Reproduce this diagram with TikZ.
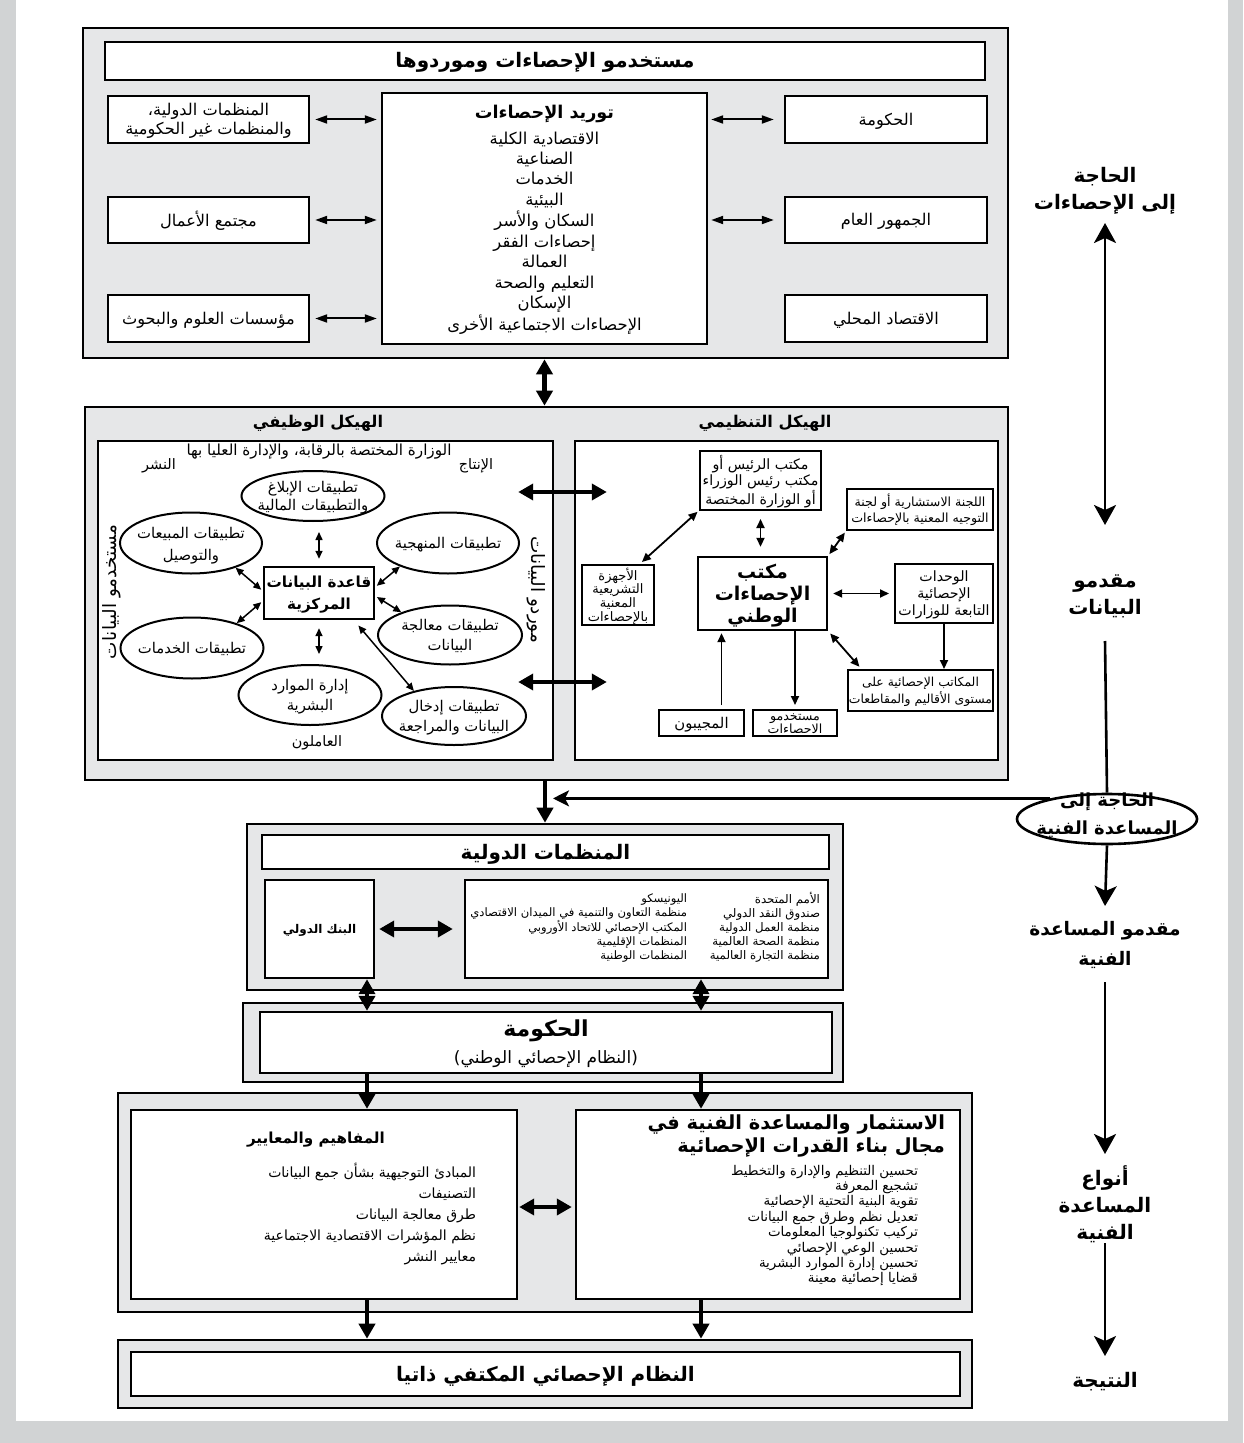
\documentclass[tikz,border=0pt]{standalone}
\usepackage{fontspec}
\usetikzlibrary{arrows.meta,shapes.geometric,fit,calc}
\newfontfamily\arabicfont[Script=Arabic]{DejaVu Sans}
\TeXXeTstate=1
\definecolor{panelgray}{RGB}{230,231,232}
\definecolor{framegray}{RGB}{209,211,212}
\newcommand{\AR}[1]{\beginR #1\endR}
\newcommand{\zbox}[1]{\makebox[0pt]{\smash{\raisebox{-0.36em}{\begin{tabular}{@{}c@{}}#1\end{tabular}}}}}
\newcommand{\zboxu}[1]{\makebox[0pt]{\smash{\begin{tabular}{@{}c@{}}#1\end{tabular}}}}
\newcommand{\rlist}[1]{\begin{tabular}{@{}r@{}}#1\end{tabular}}
\newcommand{\F}[2]{\arabicfont\fontsize{#1}{#2}\selectfont}
\begin{document}
\begin{tikzpicture}[x=0.5pt,y=-0.5pt,
  panel/.style={draw=black, line width=1.3pt, fill=panelgray, inner sep=0pt},
  wbox/.style={draw=black, line width=1.2pt, fill=white, inner sep=0pt},
  sbox/.style={draw=black, line width=1pt, fill=white, inner sep=0pt},
  oval/.style={ellipse, draw=black, line width=1pt, fill=white, inner sep=0pt},
  txt/.style={inner sep=0pt, outer sep=0pt},
  dbl/.style={{Triangle[length=6pt,width=4pt]}-{Triangle[length=6pt,width=4pt]}, line width=1pt},
  sdbl/.style={{Triangle[length=4pt,width=3.5pt]}-{Triangle[length=4pt,width=3.5pt]}, line width=0.75pt},
  rdb/.style={{Triangle[length=4.5pt,width=4pt]}-{Triangle[length=4.5pt,width=4pt]}, line width=0.9pt},
  rsg/.style={-{Triangle[length=4.5pt,width=4pt]}, line width=0.9pt},
  thk/.style={{Triangle[length=7.5pt,width=8pt]}-{Triangle[length=7.5pt,width=8pt]}, line width=2.4pt},
  thks/.style={-{Triangle[length=7.5pt,width=8pt]}, line width=2.4pt},
  rarr/.style={-{Stealth[length=10pt,width=11pt,inset=2.5pt]}, line width=1.3pt},
  rdbl/.style={{Stealth[length=10pt,width=11pt,inset=2.5pt]}-{Stealth[length=10pt,width=11pt,inset=2.5pt]}, line width=1.3pt},
  rline/.style={line width=1.3pt},
  harr/.style={-{Stealth[length=8pt,width=8pt,inset=2pt]}, line width=1.2pt}
]
% frame
\fill[framegray] (0,0) rectangle (1243,1443);
\fill[white] (16,0) rectangle (1228,1421);
\useasboundingbox (0,0) rectangle (1243,1443);

% ===== top panel =====
\node[panel, fit={(83,28) (1008,358)}] (top) {};
\node[wbox, fit={(105,42) (985,80)}, font={\F{10}{12}\bfseries}] (ttl) {\zbox{\AR{مستخدمو الإحصاءات وموردوها}}};
\node[wbox, fit={(108,96) (309,143)}, font={\F{8.1}{9.5}}] (ngo) {\zbox{\AR{المنظمات الدولية،}\\\AR{والمنظمات غير الحكومية}}};
\node[wbox, fit={(108,197) (309,243)}, font={\F{8.1}{9.5}}] (biz) {\zbox{\AR{مجتمع الأعمال}}};
\node[wbox, fit={(108,295) (309,342)}, font={\F{8.1}{9.5}}] (sci) {\zbox{\AR{مؤسسات العلوم والبحوث}}};
\node[wbox, fit={(785,96) (987,143)}, font={\F{8.1}{9.5}}] (govt) {\zbox{\AR{الحكومة}}};
\node[wbox, fit={(785,197) (987,243)}, font={\F{8.1}{9.5}}] (pub) {\zbox{\AR{الجمهور العام}}};
\node[wbox, fit={(785,295) (987,342)}, font={\F{8.1}{9.5}}] (loc) {\zbox{\AR{الاقتصاد المحلي}}};
\node[wbox, fit={(382,93) (707,344)}, font={\F{8.2}{10.2}}] (supply) {\zbox{{\bfseries\fontsize{8.8}{10}\selectfont\AR{توريد الإحصاءات}}\\[2.5pt]
 \AR{الاقتصادية الكلية}\\ \AR{الصناعية}\\ \AR{الخدمات}\\ \AR{البيئية}\\ \AR{السكان والأسر}\\
 \AR{إحصاءات الفقر}\\ \AR{العمالة}\\ \AR{التعليم والصحة}\\ \AR{الإسكان}\\ \AR{الإحصاءات الاجتماعية الأخرى}}};
\draw[dbl, shorten <=2.5pt, shorten >=2pt] (ngo.east) -- (supply.west |- ngo.east);
\draw[dbl, shorten <=2.5pt, shorten >=2pt] (biz.east) -- (supply.west |- biz.east);
\draw[dbl, shorten <=2.5pt, shorten >=2pt] (sci.east) -- (supply.west |- sci.east);
\draw[dbl, shorten <=1.5pt, shorten >=5pt] (supply.east |- govt.west) -- (govt.west);
\draw[dbl, shorten <=1.5pt, shorten >=5pt] (supply.east |- pub.west) -- (pub.west);

% ===== middle panel =====
\node[panel, fit={(85,407) (1008,780)}] (mid) {};
\draw[thk] (supply.south |- top.south) -- (supply.south |- mid.north);
\node[txt, font={\F{8.1}{10}\bfseries}] (fstr) at (318,423) {\AR{الهيكل الوظيفي}};
\node[txt, font={\F{8.1}{10}\bfseries}] (ostr) at (765,423) {\AR{الهيكل التنظيمي}};
\node[wbox, fit={(98,441) (553,760)}] (LB) {};
\node[wbox, fit={(575,441) (998,760)}] (RB) {};
\coordinate (hA) at (0,492);
\coordinate (hB) at (0,682);

% left (functional) box
\node[txt, font={\F{7.6}{8}}] (minis) at (319,452) {\AR{الوزارة المختصة بالرقابة، والإدارة العليا بها}};
\node[txt, font={\F{7.2}{8}}] (publ) at (159,466) {\AR{النشر}};
\node[txt, font={\F{7.2}{8}}] (prod) at (476,466) {\AR{الإنتاج}};
\node[oval, minimum width=71.5pt, minimum height=25pt, font={\F{7.4}{9}}] (elT) at (313,496) {\zbox{\AR{تطبيقات الإبلاغ}\\\AR{والتطبيقات المالية}}};
\node[oval, minimum width=71pt, minimum height=30.5pt, font={\F{7.4}{11}}] (elUL) at (191,543) {\zbox{\AR{تطبيقات المبيعات}\\\AR{والتوصيل}}};
\node[oval, minimum width=71pt, minimum height=30.5pt, font={\F{7.4}{10}}] (elUR) at (448,543) {\zbox{\AR{تطبيقات المنهجية}}};
\node[wbox, fit={(264,567) (374,619)}, font={\F{7.6}{11}\bfseries}] (db) {\zbox{\AR{قاعدة البيانات}\\\AR{المركزية}}};
\node[oval, minimum width=71.5pt, minimum height=30.5pt, font={\F{7.4}{10}}] (elLL) at (192,648) {\zbox{\AR{تطبيقات الخدمات}}};
\node[oval, minimum width=72pt, minimum height=29.5pt, font={\F{7.4}{10}}] (elLR) at (450,635) {\zbox{\AR{تطبيقات معالجة}\\\AR{البيانات}}};
\node[oval, minimum width=71.5pt, minimum height=30pt, font={\F{7.4}{10}}] (elB) at (310,695) {\zbox{\AR{إدارة الموارد}\\\AR{البشرية}}};
\node[oval, minimum width=72pt, minimum height=29pt, font={\F{7.4}{10}}] (elBR) at (454,716) {\zbox{\AR{تطبيقات إدخال}\\\AR{البيانات والمراجعة}}};
\node[txt, font={\F{7.2}{8}}] (work) at (317,743) {\AR{العاملون}};
\node[txt, rotate=90, font={\F{9.2}{10}}] (dusers) at (117,592) {\zboxu{\AR{مستخدمو البيانات}}};
\node[txt, rotate=-90, font={\F{9.2}{10}}] (dsupp) at (531,590) {\zboxu{\AR{موردو البيانات}}};
\draw[sdbl, shorten <=5pt, shorten >=3.5pt] (elT.south -| db.north) -- (db.north);
\draw[sdbl, shorten <=4pt, shorten >=5pt] (db.south) -- (db.south |- elB.north);
\draw[sdbl, shorten <=1pt] (db.178) -- (elUL.-29);
\draw[sdbl, shorten <=1pt] (db.188) -- (elLL.29);
\draw[sdbl, shorten <=1pt] (db.6) -- (elUR.206);
\draw[sdbl, shorten <=1pt] (db.-3) -- (elLR.155);
\draw[sdbl, shorten <=3.5pt] (db.-38) -- (elBR.148);

% right (organisational) box
\node[sbox, fit={(700,451) (821,510)}, font={\F{7.1}{8}}] (pm) {\zbox{\AR{مكتب الرئيس أو}\\\AR{مكتب رئيس الوزراء}\\\AR{أو الوزارة المختصة}}};
\node[wbox, fit={(698,557) (827,630)}, font={\F{9.5}{11}\bfseries}] (nso) {\zbox{\AR{مكتب}\\\AR{الإحصاءات}\\\AR{الوطني}}};
\node[sbox, fit={(582,565) (654,625)}, font={\F{6.5}{6.7}}] (leg) {\zbox{\AR{الأجهزة}\\\AR{التشريعية}\\\AR{المعنية}\\\AR{بالإحصاءات}}};
\node[sbox, fit={(847,489) (993,530)}, font={\F{6.3}{8}}] (comm) {\zbox{\AR{اللجنة الاستشارية أو لجنة}\\\AR{التوجيه المعنية بالإحصاءات}}};
\node[sbox, fit={(895,564) (993,623)}, font={\F{7.1}{8.5}}] (units) {\zbox{\AR{الوحدات}\\\AR{الإحصائية}\\\AR{التابعة للوزارات}}};
\node[sbox, fit={(848,670) (993,711)}, font={\F{6.2}{8.5}}] (reg) {\zbox{\AR{المكاتب الإحصائية على}\\\AR{مستوى الأقاليم والمقاطعات}}};
\node[sbox, fit={(659,710) (744,736)}, font={\F{7.4}{8}}] (resp) {\zbox{\AR{المجيبون}}};
\node[sbox, fit={(753,710) (837,736)}, font={\F{6.3}{6}}] (susers) {\zbox{\AR{مستخدمو}\\\AR{الاحصاءات}}};
\draw[rdb, shorten <=1.5pt, shorten >=1pt] (leg.55) -- (pm.206);
\draw[rdb, shorten <=4pt, shorten >=4.5pt] (pm.south) -- (pm.south |- nso.north);
\draw[rdb, shorten <=1pt, shorten >=1pt] (nso.north east) -- (comm.south west);
\draw[rdb, shorten <=2.5pt, shorten >=2.5pt] (nso.east) -- (units.west);
\draw[rsg] (units.south) -- (units.south |- reg.north);
\draw[rdb, shorten <=1.5pt, shorten >=1.5pt] (nso.south east) -- (reg.160);
\coordinate (rp) at ($(resp.north)+(20,0)$);
\draw[rsg, shorten <=2pt, shorten >=1pt] (rp) -- (rp |- nso.south);
\draw[rsg, shorten >=2pt] (nso.south -| susers.north) -- (susers.north);

\draw[thk, shorten <=-18pt, shorten >=-16.5pt] (LB.east |- hA) -- (RB.west |- hA);
\draw[thk, shorten <=-18pt, shorten >=-16.5pt] (LB.east |- hB) -- (RB.west |- hB);

% ===== international organisations =====
\node[panel, fit={(247,824) (843,990)}] (intl) {};
\draw[thks] (mid.south -| intl.north) -- (intl.north);
\node[wbox, fit={(262,835) (829,869)}, font={\F{10}{12}\bfseries}] (intlt) {\zbox{\AR{المنظمات الدولية}}};
\node[wbox, fit={(265,880) (374,978)}, font={\F{6}{8}\bfseries}] (wb) {\zbox{\AR{البنك الدولي}}};
\node[wbox, fit={(465,880) (828,978)}] (orgs) {};
\node[txt, anchor=east, font={\F{5.9}{7}}] (orgsR) at (820,928) {\rlist{\AR{الأمم المتحدة}\\ \AR{صندوق النقد الدولي}\\ \AR{منظمة العمل الدولية}\\ \AR{منظمة الصحة العالمية}\\ \AR{منظمة التجارة العالمية}}};
\node[txt, anchor=east, font={\F{5.8}{7}}] (orgsL) at (687,928) {\rlist{\AR{اليونيسكو}\\ \AR{منظمة التعاون والتنمية في الميدان الاقتصادي}\\ \AR{المكتب الإحصائي للاتحاد الأوروبي}\\ \AR{المنظمات الإقليمية}\\ \AR{المنظمات الوطنية}}};
\draw[thk, shorten <=2pt, shorten >=5.5pt] (wb.east) -- (orgs.west);

% ===== government =====
\node[panel, fit={(243,1003) (843,1082)}] (govp) {};
\node[wbox, fit={(260,1012) (832,1073)}, font={\F{8.5}{13.5}}] (govb) {\zbox{{\bfseries\fontsize{11}{13}\selectfont\AR{الحكومة}}\\ \AR{(النظام الإحصائي الوطني)}}};
\coordinate (gx1) at (367,0);
\coordinate (gx2) at (701,0);
\draw[thk] (wb.south -| gx1) -- (govb.north -| gx1);
\draw[thk] (orgs.south -| gx2) -- (govb.north -| gx2);

% ===== technical assistance types =====
\node[panel, fit={(118,1093) (972,1312)}] (cons) {};
\node[wbox, fit={(131,1110) (517,1299)}] (conc) {};
\node[wbox, fit={(576,1110) (960,1299)}] (tech) {};
\draw[thks] (govb.south -| gx1) -- (conc.north -| gx1);
\draw[thks] (govb.south -| gx2) -- (tech.north -| gx2);
\coordinate (hC) at (0,1207);
\draw[thk, shorten <=0.5pt, shorten >=1.5pt] (conc.east |- hC) -- (tech.west |- hC);
\node[txt, font={\F{7.6}{10}\bfseries}] (conct) at (316,1140) {\AR{المفاهيم والمعايير}};
\node[txt, anchor=east, font={\F{7}{10.5}}] (concl) at (476,1215) {\rlist{\AR{المبادئ التوجيهية بشأن جمع البيانات}\\ \AR{التصنيفات}\\ \AR{طرق معالجة البيانات}\\ \AR{نظم المؤشرات الاقتصادية الاجتماعية}\\ \AR{معايير النشر}}};
\node[txt, anchor=east, font={\F{9.7}{11.5}\bfseries}] (techt) at (945,1136) {\rlist{\AR{الاستثمار والمساعدة الفنية في}\\ \AR{مجال بناء القدرات الإحصائية}}};
\node[txt, anchor=east, font={\F{6.7}{7.7}}] (techl) at (918,1226) {\rlist{\AR{تحسين التنظيم والإدارة والتخطيط}\\ \AR{تشجيع المعرفة}\\ \AR{تقوية البنية التحتية الإحصائية}\\ \AR{تعديل نظم وطرق جمع البيانات}\\ \AR{تركيب تكنولوجيا المعلومات}\\ \AR{تحسين الوعي الإحصائي}\\ \AR{تحسين إدارة الموارد البشرية}\\ \AR{قضايا إحصائية معينة}}};

% ===== result =====
\node[panel, fit={(118,1340) (972,1408)}] (fin) {};
\node[wbox, fit={(131,1352) (960,1396)}, font={\F{10}{12}\bfseries}] (finb) {\zbox{\AR{النظام الإحصائي المكتفي ذاتيا}}};
\draw[thks] (conc.south -| gx1) -- (fin.north -| gx1);
\draw[thks] (tech.south -| gx2) -- (fin.north -| gx2);

% ===== right column =====
\node[txt, font={\F{10}{13.5}\bfseries}] (need1) at (1105,188) {\zbox{\AR{الحاجة}\\\AR{إلى الإحصاءات}}};
\node[txt, font={\F{10}{13.5}\bfseries}] (prov) at (1105,593) {\zbox{\AR{مقدمو}\\\AR{البيانات}}};
\node[oval, line width=1.3pt, minimum width=90pt, minimum height=25pt, font={\F{9}{14}\bfseries}] (nta) at (1107,819) {\zboxu{\AR{الحاجة إلى}\\\AR{المساعدة الفنية}}};
\node[txt, font={\F{9.3}{15}\bfseries}] (taprov) at (1105,942) {\zbox{\AR{مقدمو المساعدة}\\\AR{الفنية}}};
\node[txt, font={\F{10}{13.5}\bfseries}] (types) at (1105,1204) {\zbox{\AR{أنواع}\\\AR{المساعدة}\\\AR{الفنية}}};
\node[txt, font={\F{10}{13.5}\bfseries}] (result) at (1105,1380) {\zbox{\AR{النتيجة}}};
\draw[rdbl] ($(need1)+(0,35)$) -- ($(prov)+(0,-68)$);
\draw[rline] ($(prov)+(0,48)$) -- (nta.north);
\draw[rarr] (nta.south) -- ($(taprov)+(0,-36)$);
\draw[rarr] ($(taprov)+(0,40)$) -- ($(types)+(0,-50)$);
\draw[rarr] ($(types)+(0,39)$) -- ($(result)+(0,-24)$);
\coordinate (junc) at (553,0);
\draw[harr] (nta.160) -- (nta.160 -| junc);
\end{tikzpicture}
\end{document}
